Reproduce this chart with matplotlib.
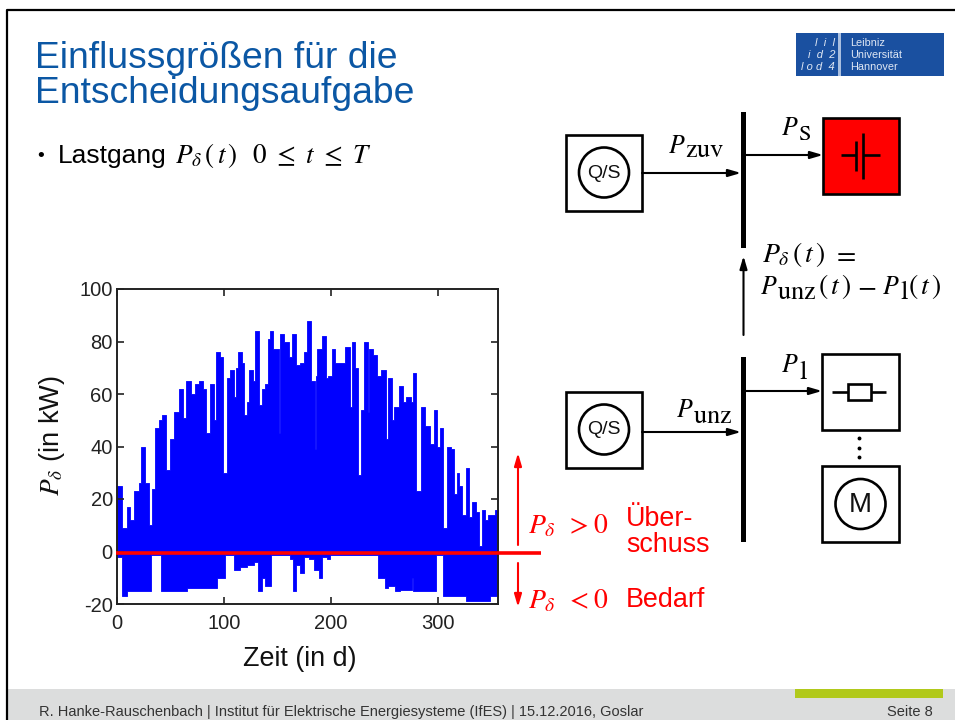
import matplotlib
matplotlib.use("Agg")
from matplotlib import pyplot as plt
from matplotlib.patches import Rectangle, Circle

plt.rcParams["font.family"] = ["Liberation Sans", "DejaVu Sans"]
plt.rcParams["mathtext.fontset"] = "stix"
plt.rcParams["axes.unicode_minus"] = False

# upper envelope: step start day and value in kW
upper_days = [0, 4.7, 9.3, 12.4, 15.6, 20.2, 22.7, 26.4, 29.5, 32.7,
              35.1, 38.9, 42, 46, 49.8, 53.5, 58.2, 61.6, 64.7, 69,
              73, 76.5, 80.2, 83, 86.8, 90.2, 92.4, 96.4, 99.5, 102.6,
              105.8, 108.9, 111, 113.5, 116.6, 118.8, 121.3, 123.8, 126.9, 129,
              132.8, 135.3, 138.4, 140.9, 143, 146.2, 151.4, 152.4, 156.1, 161.1,
              163.9, 167, 171, 175.1, 177.9, 181, 184.7, 185.7, 187.2, 191.9,
              195, 196.9, 200.6, 203.7, 208.4, 213, 217.7, 219.3, 222.4, 225.5,
              228, 230.8, 234.2, 235.8, 239.5, 243.2, 246.3, 251.5, 252.9, 256.9,
              259.1, 263.8, 267.5, 270, 274.3, 276.2, 279.3, 283.7, 288, 292.4,
              296.1, 299.2, 301.7, 304.2, 307.9, 311.7, 315.1, 317.3, 319.8, 321.9,
              326, 329.1, 331.3, 335.9, 338.4, 340.9, 344.3, 346.8, 353, 356]
upper_kw = [25, 9, 17, 12, 23, 26, 40, 26, 10, 24,
            47, 50, 52, 31, 43, 53, 62, 51, 65, 60,
            64, 65, 62, 45, 64, 50, 76, 74, 30, 66,
            69, 59, 70, 76, 72, 52, 57, 69, 65, 84,
            56, 62, 64, 81, 84, 77, 45, 83, 80, 74,
            83, 71, 72, 76, 88, 65, 39, 67, 77, 82,
            66, 67, 77, 72, 72, 78, 55, 80, 70, 29,
            54, 80, 53, 77, 75, 67, 69, 43, 66, 50,
            55, 63, 57, 59, 57, 68, 23, 55, 48, 41,
            54, 40, 47, 9, 40, 39, 22, 30, 25, 14,
            32, 13, 19, 15, 2, 16, 12, 14, 16, 16]

# lower envelope: step start day and value in kW
lower_days = [0, 4.3, 9, 31.7, 41, 65, 84, 93.3, 101, 108.9,
              115, 121.3, 128, 132, 135.3, 138.4, 143.9, 161.4, 164.5, 167.6,
              170.7, 174.8, 179.5, 184.2, 189, 192, 196, 199, 244.2, 250.4,
              253.5, 259.7, 264.4, 275.3, 276.8, 286, 297.7, 304.6, 311, 326.5,
              348.3, 356]
lower_kw = [-2, -17, -15, -1.5, -15, -14, -14, -10, -1.5, -7,
            -6, -5, -4, -15, -10, -13, -1.5, -3, -15, -5,
            -8, -2, -3, -7, -10, -2, -3, -1.5, -10, -14,
            -13, -15, -14.5, -10, -15, -15, -1.5, -17, -17, -19,
            -17, -17]

x_ticks = [0, 100, 200, 300]
y_ticks = [-20, 0, 20, 40, 60, 80, 100]

W, H = 955, 720
fig = plt.figure(figsize=(W / 100, H / 100), dpi=100, facecolor="white")

# page overlay in pixel coordinates
page = fig.add_axes([0, 0, 1, 1], zorder=0)
page.set_xlim(0, W)
page.set_ylim(H, 0)
page.axis("off")

# chart axes
ax = fig.add_axes([117 / W, 1 - 604 / H, (498 - 117) / W, (604 - 289) / H], zorder=1)
ax.fill_between(upper_days, 0, upper_kw, step="post", color="#0000ff", lw=0.6)
ax.fill_between(lower_days, 0, lower_kw, step="post", color="#0000ff", lw=0.6)
ax.set_xlim(0, 356)
ax.set_ylim(-20, 100)
ax.set_xticks(x_ticks)
ax.set_yticks(y_ticks)
ax.tick_params(direction="in", top=True, right=True, length=5, width=1.2, labelsize=14.5, colors="#222222")
ax.tick_params(axis="x", pad=7)
ax.tick_params(axis="y", pad=3)
for side in ax.spines.values():
    side.set_linewidth(1.4)
    side.set_color("#222222")

# drawing layer above the chart
top = fig.add_axes([0, 0, 1, 1], zorder=2)
top.set_xlim(0, W)
top.set_ylim(H, 0)
top.axis("off")
top.patch.set_alpha(0)


def box(x0, y0, x1, y1, fc="white"):
    top.add_patch(Rectangle((x0, y0), x1 - x0, y1 - y0, fc=fc, ec="black", lw=1.9))


def arrow(x0, y0, x1, y1, color="black", lw=1.5):
    top.annotate("", xy=(x1, y1), xytext=(x0, y0),
                 arrowprops=dict(arrowstyle="-|>,head_length=0.75,head_width=0.22", color=color, lw=lw,
                                 shrinkA=0, shrinkB=0))


def line(xs, ys, color="black", lw=1.9):
    top.plot(xs, ys, color=color, lw=lw, solid_capstyle="butt")


def circle_label(x, y, label, size):
    top.add_patch(Circle((x, y), 25, fc="white", ec="black", lw=1.9))
    top.text(x, y + 0.5, label, ha="center", va="center", fontsize=size, color="#111111")


def put(x, y, s, size=19, color="black"):
    top.text(x, y, s, fontsize=size, color=color, va="baseline", ha="left")


# slide frame, footer, logo
page.plot([7, 7, W], [H, 10, 10], color="black", lw=1.6)
page.add_patch(Rectangle((8, 689), W - 8, 31, fc="#dcdddd", ec="none"))
page.add_patch(Rectangle((795, 689), 148, 9, fc="#b1c91b", ec="none"))
page.text(39, 716, "R. Hanke-Rauschenbach | Institut für Elektrische Energiesysteme (IfES) | 15.12.2016, Goslar",
          fontsize=10.5, color="#333333", va="baseline")
page.text(887, 716, "Seite 8", fontsize=10.5, color="#333333", va="baseline")
page.add_patch(Rectangle((796, 33), 148, 43, fc="#1a50a0", ec="none"))
page.add_patch(Rectangle((838, 33), 3, 43, fc="#a9bfe0", ec="none"))
for yy, s in zip([46, 58, 70], ["Leibniz", "Universität", "Hannover"]):
    page.text(850, yy, s, fontsize=7.8, color="#dfe7f4", va="baseline")
for yy, s in zip([46, 58, 70], ["l  i  l", "i  d  2", "l o d  4"]):
    page.text(835, yy, s, fontsize=8, color="#dfe7f4", va="baseline", ha="right", style="italic")

# title and bullet
page.text(35, 68, "Einflussgrößen für die", fontsize=26.8, color="#0b57a4", va="baseline")
page.text(35, 103, "Entscheidungsaufgabe", fontsize=26.8, color="#0b57a4", va="baseline")
page.text(37, 161, "•", fontsize=14, va="baseline")
page.text(58, 163, "Lastgang", fontsize=19, va="baseline")
page.text(175, 163, r"$P_{\delta}\,(\,t\,)$", fontsize=19.5, va="baseline")
page.text(252, 163, r"$0\ \leq\ t\ \leq\ T$", fontsize=19.5, va="baseline")

# axis labels
top.text(300, 666, "Zeit (in d)", fontsize=19.4, ha="center", va="baseline", color="#111111")
top.text(52, 436, r"$P_{\delta}$ (in kW)", fontsize=19.6, rotation=90, ha="center", va="center", color="#111111")

# upper branch
box(566, 135, 642, 211)
circle_label(604, 172.5, "Q/S", 14)
arrow(642, 173, 741, 173)
top.add_patch(Rectangle((741, 112), 5, 136, fc="black", ec="none"))
arrow(746, 155, 823, 155)
box(823, 118, 899, 194, fc="#ff0000")
line([841, 856], [155, 155])
line([863, 880], [155, 155])
line([856, 856], [141, 171])
line([863, 863], [133, 179])
put(668, 153, r"$P$", 18.5)
put(685, 157, r"$\mathrm{zuv}$", 19)
put(781, 135, r"$P$", 18.5)
put(798, 140, r"$\mathrm{S}$", 16)

# link between the buses
arrow(743.5, 335, 743.5, 256)
put(762, 262, r"$P_{\delta}$", 20)
put(792, 262, r"$(\,t\,)$", 20)
put(832, 262, r"$=$", 20)
put(760, 294, r"$P$", 18.5)
put(777, 299, r"$\mathrm{unz}$", 19)
put(818, 294, r"$(\,t\,)$", 20)
put(857, 294, r"$-$", 20)
put(882, 294, r"$P$", 18.5)
put(900, 299, r"$\mathrm{l}$", 19)
put(908, 294, r"$(\,t\,)$", 20)

# lower branch
box(566, 392, 642, 468)
circle_label(604, 429.5, "Q/S", 14)
arrow(642, 432, 741, 432)
top.add_patch(Rectangle((741, 357), 5, 185, fc="black", ec="none"))
arrow(746, 391, 822, 391)
box(822, 354, 899, 430)
line([832, 886], [391.5, 391.5])
top.add_patch(Rectangle((848, 384), 23, 15.5, fc="white", ec="black", lw=1.9, zorder=3))
top.plot([859, 859, 859], [438, 448, 457], ls="none", marker="o", ms=1.8, color="black")
box(822, 466, 899, 542)
circle_label(860.5, 504, "M", 20)
put(781, 372, r"$P$", 18.5)
put(799, 379, r"$\mathrm{l}$", 19)
put(676, 417, r"$P$", 18.5)
put(693, 423, r"$\mathrm{unz}$", 19)

# red annotations
line([116, 541], [553, 553], color="#ff0000", lw=2.6)
arrow(518, 545, 518, 453, color="#ff0000", lw=1.5)
arrow(518, 563, 518, 607, color="#ff0000", lw=1.5)
put(528, 533, r"$P_{\delta}$", 20, "#ff0000")
put(565, 533, r"$>$", 20, "#ff0000")
put(593, 533, r"$0$", 20, "#ff0000")
put(528, 608, r"$P_{\delta}$", 20, "#ff0000")
put(565, 608, r"$<$", 20, "#ff0000")
put(593, 608, r"$0$", 20, "#ff0000")
put(626, 526, "Über-", 19.4, "#ff0000")
put(626, 552, "schuss", 19.4, "#ff0000")
put(626, 607, "Bedarf", 19.4, "#ff0000")

top.set_xlim(0, W)
top.set_ylim(H, 0)
fig.savefig("out.png", dpi=100)
